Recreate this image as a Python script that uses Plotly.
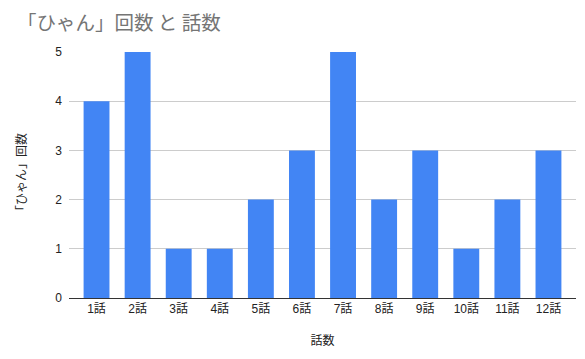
import plotly.graph_objects as go

episodes = ["1話", "2話", "3話", "4話", "5話", "6話", "7話", "8話", "9話", "10話", "11話", "12話"]
hyan_counts = [4, 5, 1, 1, 2, 3, 5, 2, 3, 1, 2, 3]
y_ticks = [0, 1, 2, 3, 4, 5]

FONT = "'Liberation Sans', Arial, 'Noto Sans CJK JP', sans-serif"

fig = go.Figure(go.Bar(x=episodes, y=hyan_counts, marker_color="#4285F4", marker_line_width=0))

fig.update_layout(
    width=585, height=359,
    margin=dict(l=69, r=9, t=52, b=61),
    paper_bgcolor="white", plot_bgcolor="white",
    font=dict(family=FONT, size=12, color="#222222"),
    bargap=0.37,
    showlegend=False,
    title=dict(text="「ひゃん」回数 と 話数", x=17/585, xanchor="left", y=1-23/359, yanchor="middle",
               font=dict(size=19.5, color="#757575", family="'Noto Sans CJK JP', sans-serif")),
)
fig.update_xaxes(
    range=[-0.67, 11.67], showgrid=False, showline=True, linecolor="#333333", linewidth=1,
    ticks="", tickfont=dict(size=12, color="#222222"),
    title=dict(text="話数", font=dict(size=12, color="#222222"), standoff=21),
)
fig.update_yaxes(
    range=[0, 5], tickvals=y_ticks, showgrid=True, gridcolor="#cccccc", gridwidth=1,
    zeroline=False, showline=False, ticks="", ticklabelstandoff=6,
    tickfont=dict(size=12, color="#222222"),
    title=dict(text="「ひゃん」回数", font=dict(size=12, color="#222222"), standoff=26),
)
fig.write_html("out.html", config={"displayModeBar": False},
               post_script="document.body.style.margin='0';")
